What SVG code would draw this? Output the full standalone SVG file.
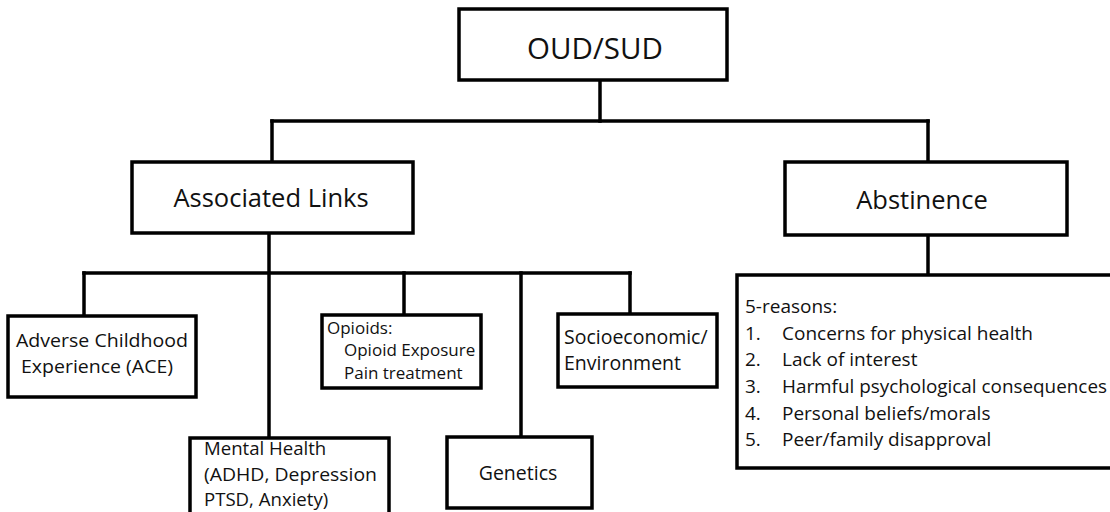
<svg xmlns="http://www.w3.org/2000/svg" width="1110" height="512" viewBox="0 0 1110 512">
<style>
.box{fill:#fff;stroke:#000;stroke-width:3.5}
.ln{stroke:#000;stroke-width:3.5;fill:none;stroke-linecap:square}
text{font-family:"Open Sans","Noto Sans",sans-serif;fill:#111}
.big{font-size:29.5px}
.mid{font-size:25.5px}
.sm{font-size:19.5px}
.sm2{font-size:18.6px}
.xs{font-size:17px}
.rs{font-size:19px}
</style>
<rect width="1110" height="512" fill="#fff"/>
<g id="connectors">
<line class="ln" x1="600" y1="80" x2="600" y2="121"/>
<line class="ln" x1="272" y1="121" x2="928" y2="121"/>
<line class="ln" x1="272" y1="121" x2="272" y2="162"/>
<line class="ln" x1="928" y1="121" x2="928" y2="162"/>
<line class="ln" x1="928" y1="235" x2="928" y2="275"/>
<line class="ln" x1="269" y1="233" x2="269" y2="438"/>
<line class="ln" x1="84" y1="273" x2="630" y2="273"/>
<line class="ln" x1="84" y1="273" x2="84" y2="316"/>
<line class="ln" x1="404" y1="273" x2="404" y2="315"/>
<line class="ln" x1="521" y1="273" x2="521" y2="437"/>
<line class="ln" x1="630" y1="273" x2="630" y2="314"/>
</g>
<g id="oud">
<rect class="box" x="459" y="9" width="268" height="71"/>
<text class="big" x="595" y="59" text-anchor="middle">OUD/SUD</text>
</g>
<g id="associated">
<rect class="box" x="132" y="162" width="281" height="71"/>
<text class="mid" x="271" y="207" text-anchor="middle">Associated Links</text>
</g>
<g id="abstinence">
<rect class="box" x="785" y="162" width="282" height="73"/>
<text class="mid" x="922" y="209" text-anchor="middle">Abstinence</text>
</g>
<g id="reasons">
<rect class="box" x="737" y="275" width="390" height="193"/>
<text class="rs" x="745" y="313">5-reasons:</text>
<text class="rs" x="745" y="340">1.</text><text class="rs" x="782" y="340">Concerns for physical health</text>
<text class="rs" x="745" y="366">2.</text><text class="rs" x="782" y="366">Lack of interest</text>
<text class="rs" x="745" y="393">3.</text><text class="rs" x="782" y="393" textLength="325" lengthAdjust="spacingAndGlyphs">Harmful psychological consequences</text>
<text class="rs" x="745" y="420">4.</text><text class="rs" x="782" y="420">Personal beliefs/morals</text>
<text class="rs" x="745" y="446">5.</text><text class="rs" x="782" y="446">Peer/family disapproval</text>
</g>
<g id="ace">
<rect class="box" x="8" y="316" width="188" height="81"/>
<text class="sm2" x="16" y="347" textLength="172" lengthAdjust="spacingAndGlyphs">Adverse Childhood</text>
<text class="sm2" x="21" y="373" textLength="152" lengthAdjust="spacingAndGlyphs">Experience (ACE)</text>
</g>
<g id="opioids">
<rect class="box" x="322" y="315" width="159" height="73"/>
<text class="xs" x="327" y="334">Opioids:</text>
<text class="xs" x="344" y="356">Opioid Exposure</text>
<text class="xs" x="344" y="379">Pain treatment</text>
</g>
<g id="socio">
<rect class="box" x="558" y="314" width="159" height="73"/>
<text class="sm" x="564" y="344">Socioeconomic/</text>
<text class="sm" x="564" y="370">Environment</text>
</g>
<g id="genetics">
<rect class="box" x="447" y="437" width="145" height="71"/>
<text class="sm" x="518" y="480" text-anchor="middle">Genetics</text>
</g>
<g id="mental">
<rect class="box" x="190" y="438" width="199" height="90"/>
<text class="sm2" x="204" y="455">Mental Health</text>
<text class="sm2" x="204" y="480.5" textLength="173" lengthAdjust="spacingAndGlyphs">(ADHD, Depression</text>
<text class="sm2" x="204" y="506">PTSD, Anxiety)</text>
</g>
</svg>
